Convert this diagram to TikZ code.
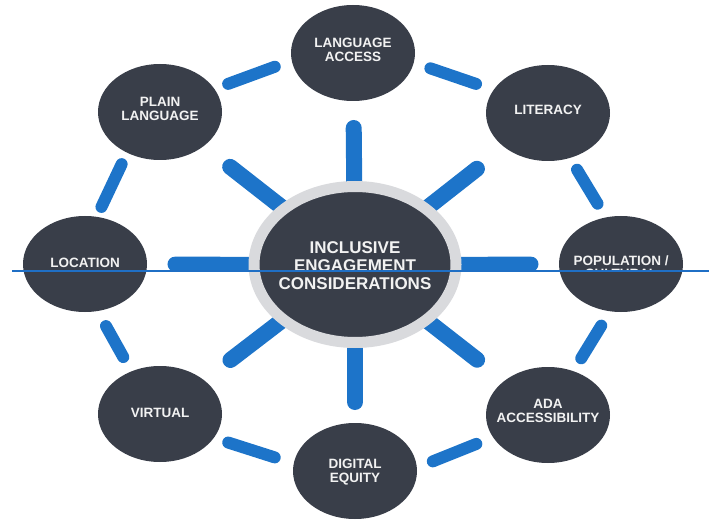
\documentclass[tikz,border=0pt]{standalone}
\usepackage{fontspec}
\setmainfont{Liberation Sans}
\usetikzlibrary{shapes.geometric,backgrounds}
\definecolor{nodedark}{HTML}{393E49}
\definecolor{spokeblue}{HTML}{1D74C9}
\definecolor{ringgray}{HTML}{D9DADD}
\definecolor{lineblue}{HTML}{1F6FC5}
\definecolor{txtwhite}{HTML}{F2F2F2}
\begin{document}
\begin{tikzpicture}[x=1pt,y=-1pt,
  outer/.style={ellipse, fill=nodedark, minimum width=124pt, minimum height=96pt, inner sep=0pt, outer sep=0pt},
  lbl/.style={text=txtwhite, font=\bfseries\fontsize{13.5}{13.5}\selectfont, align=center, inner sep=0pt},
  hub/.style={ellipse, fill=nodedark, draw=ringgray, line width=11pt, minimum width=202pt, minimum height=156pt, inner sep=0pt, outer sep=0pt},
  hublbl/.style={text=txtwhite, font=\bfseries\fontsize{17}{18}\selectfont, align=center, inner sep=0pt},
  spoke/.style={draw=spokeblue, line width=16pt, line cap=round},
  hspoke/.style={draw=spokeblue, line width=15pt, line cap=round},
  link/.style={draw=spokeblue, line width=12pt, line cap=round},
  cutline/.style={draw=lineblue, line width=2pt}
]
\useasboundingbox (0,0) rectangle (709,521);
% hub
\node[hub] (c) at (355,264.5) {};
\node[hublbl] (c-t) at (355,266) {INCLUSIVE\\ENGAGEMENT\\CONSIDERATIONS};
% outer nodes
\node[outer] (la)  at (353,53)  {};
\node[outer] (pl)  at (160,112) {};
\node[outer] (lit) at (548,113) {};
\node[outer] (loc) at (85,264)  {};
\node[outer] (pop) at (621,264) {};
\node[outer] (vir) at (160,414) {};
\node[outer] (de)  at (355,471) {};
\node[outer] (ada) at (548,415) {};
% labels
\node[lbl] (la-t)  at (353,50)  {LANGUAGE\\ACCESS};
\node[lbl] (pl-t)  at (160,109) {PLAIN\\LANGUAGE};
\node[lbl] (lit-t) at (548,110) {LITERACY};
\node[lbl] (loc-t) at (85,263)  {LOCATION};
\begin{scope}
  \clip (540,200) rectangle (709,270.5);
  \node[lbl] (pop-t) at (621,267) {POPULATION /\\CULTURAL};
\end{scope}
\node[lbl] (vir-t) at (160,413) {VIRTUAL};
\node[lbl] (de-t)  at (355,472) {DIGITAL\\EQUITY};
\node[lbl] (ada-t) at (548,411) {ADA\\ACCESSIBILITY};
% connectors
\begin{pgfonlayer}{background}
  \draw[spoke, shorten >=27pt]   (c) -- (la);
  \draw[spoke, shorten >=33.7pt] (c) -- (pl);
  \draw[spoke, shorten >=35pt]   (c) -- (lit);
  \draw[spoke, shorten >=33.3pt] (c) -- (vir);
  \draw[spoke, shorten >=21pt]   (c) -- (de);
  \draw[spoke, shorten >=34.5pt] (c) -- (ada);
  \begin{scope}
    \clip (0,0) rectangle (709,271);
    \draw[hspoke, shorten >=28pt] (c) -- (loc);
    \draw[hspoke, shorten >=28pt] (c) -- (pop);
  \end{scope}
  \draw[link, shorten <=14.7pt, shorten >=18.1pt] (pl.23.5) -- (la.187.8);
  \draw[link, shorten <=17.6pt, shorten >=18.6pt] (la.-9.5) -- (lit.157);
  \draw[link, shorten <=13.8pt, shorten >=16.1pt] (lit.-64.3) -- (pop.108.7);
  \draw[link, shorten <=16.9pt, shorten >=15.1pt] (pop.257.4) -- (ada.60.9);
  \draw[link, shorten <=18pt, shorten >=17.2pt] (ada.202.2) -- (de.3.1);
  \draw[link, shorten <=20pt, shorten >=15.2pt] (de.173.9) -- (vir.-24.3);
  \draw[link, shorten <=16.5pt, shorten >=17.3pt] (vir.124.5) -- (loc.-75.5);
  \draw[link, shorten <=11pt, shorten >=12.7pt] (loc.76) -- (pl.231);
\end{pgfonlayer}
% overlay line
\coordinate (hlA) at (12,271);
\coordinate (hlB) at (709,271);
\draw[cutline] (hlA) -- (hlB);
\end{tikzpicture}
\end{document}
